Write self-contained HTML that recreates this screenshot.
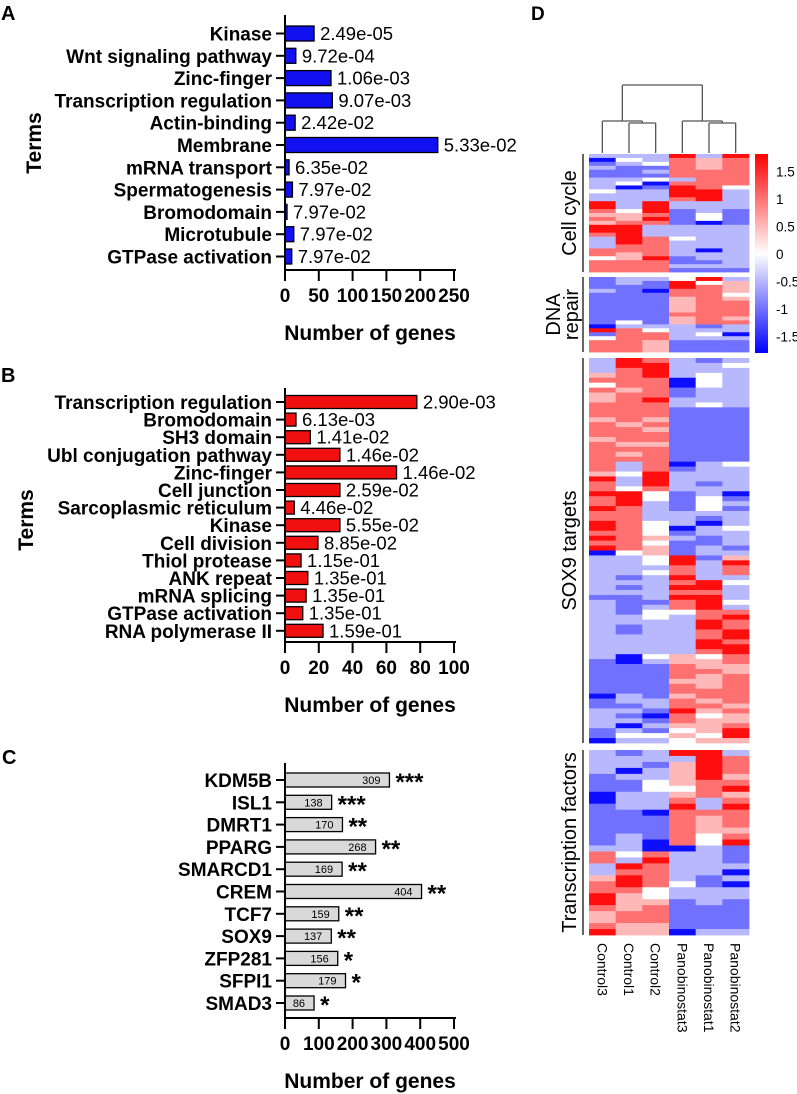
<!DOCTYPE html>
<html><head><meta charset="utf-8"><style>
html,body{margin:0;padding:0;background:#fff}
svg{display:block;font-family:"Liberation Sans",sans-serif}
</style></head><body>
<svg id="fig" width="797" height="1094" viewBox="0 0 797 1094" xmlns="http://www.w3.org/2000/svg">
<g id="gA"></g>
<g id="gB"></g>
<g id="gC"></g>
<g id="gD"></g>
</svg>
<script>
// Panel A data
const catsA = ["Kinase","Wnt signaling pathway","Zinc-finger","Transcription regulation","Actin-binding","Membrane","mRNA transport","Spermatogenesis","Bromodomain","Microtubule","GTPase activation"];
const valsA = [43,16,68,70,15,226,6,11,3,13,10];
const pA = ["2.49e-05","9.72e-04","1.06e-03","9.07e-03","2.42e-02","5.33e-02","6.35e-02","7.97e-02","7.97e-02","7.97e-02","7.97e-02"];
const ticksA = [0,50,100,150,200,250];
// Panel B data
const catsB = ["Transcription regulation","Bromodomain","SH3 domain","Ubl conjugation pathway","Zinc-finger","Cell junction","Sarcoplasmic reticulum","Kinase","Cell division","Thiol protease","ANK repeat","mRNA splicing","GTPase activation","RNA polymerase II"];
const valsB = [78,6.5,15,32.5,66,32.5,5.5,32.5,19.5,9.5,13.5,12.5,10.5,22.5];
const pB = ["2.90e-03","6.13e-03","1.41e-02","1.46e-02","1.46e-02","2.59e-02","4.46e-02","5.55e-02","8.85e-02","1.15e-01","1.35e-01","1.35e-01","1.35e-01","1.59e-01"];
const ticksB = [0,20,40,60,80,100];
// Panel C data
const catsC = ["KDM5B","ISL1","DMRT1","PPARG","SMARCD1","CREM","TCF7","SOX9","ZFP281","SFPI1","SMAD3"];
const valsC = [309,138,170,268,169,404,159,137,156,179,86];
const starsC = ["***","***","**","**","**","**","**","**","*","*","*"];
const ticksC = [0,100,200,300,400,500];
// Panel D data (C3,C1,C2,P3,P1,P2); B=-1.7 b=-1 l=-0.5 w=0 p=0.5 r=1 R=1.7
const samples = ["Control3","Control1","Control2","Panobinostat3","Panobinostat1","Panobinostat2"];
const codeVals = {B:-1.7,b:-1,l:-0.5,w:0,p:0.5,r:1,R:1.7};
const cellCycle = ["lllRlR","Bwlrpr","blwrpr","lbbrpr","bblrrr","bbbrrr","llwlrr","lwBrrr","lBbRrw","wllRRl","lllRRl","lllrRl","RlRlll","RlRlll","rwRblb","pprbwb","rpRbwb","prrbBb","RRllll","RRllll","rRllll","lRrwll","lRrlll","lrrlll","rrrlBl","rprlll","wpRbll","rrrbbl","rrrlll","rrrbbb"];
const dnaRepair = ["bllwRl","blbRwp","bbbRrp","lbBrrp","bbbrrw","bbbprp","bbbprr","bbbprr","bbbprr","bbbrrr","bbbprp","bwbprr","Blllbl","Rrwlll","brrlwB","wrrlll","rrpbbb","rrpbbb","rrpbbb"];
const sox9 = ["lRrlbl","lRRllw","lrRlll","prRlwl","rrrBwl","wrrBwl","rprbll","prrbll","prRlll","rrrlwl","rrrbbb","rrrbbb","prpbbb","rprbbb","rrpbbb","rrrbbb","prrbbb","rppbbb","rrrbbb","rprbbb","rrrbbb","rlrBlw","rlrbll","pwRlll","RlRlll","rlRlbl","rwrlll","RRwblB","rRwbwb","rRlbwl","Rrlbwb","rrllll","rrllbl","RrwlBl","RrwBlw","rrwbll","Rrplbl","rrwbbl","Rrpblb","Bwpbll","llwRbp","llwRlR","lllrlr","llwrlr","lblRll","lllrRw","lblRRl","lllrrl","bblRRl","lbbrRw","lblrRl","lbwwrr","llwlrR","llllRr","lbllRr","lbllrR","llllrR","llllRr","llllRR","llllrR","lBwpwr","bBlppr","bbbrpp","bbbrrp","bbbrpr","bbbppr","bbbrpr","bbbrrr","Blbprr","bllrpr","bblrrp","llbRpr","lbBrwp","llbrpp","lBlppr","blbwpR","bwwpwR","Bllwpp"];
const tfs = ["lblRRl","llllRr","llbpRr","lBlpRr","bllpRp","bbwprr","bbwwrR","Bllprp","Bllrlr","bllRlR","bbBrrr","bbbrpr","bbbrpr","bbbrpp","blbrwr","blBrwR","llBBlb","rwrllb","rlRllb","lRrlll","lrrllB","pRrlbl","rRrwbB","rrwlll","Rpwlll","Rppblb","rprbbb","prrbbb","prrbbb","rppbbb","RppBll"];
const cbTicks = [1.5,1,0.5,0,-0.5,-1,-1.5];

const NS="http://www.w3.org/2000/svg";
function mk(parent,tag,attrs,text){const e=document.createElementNS(NS,tag);for(const k in attrs)e.setAttribute(k,attrs[k]);if(text!==undefined)e.textContent=text;parent.appendChild(e);return e;}

function barChart(g,cfg){
  const x0=285,w=169;
  const xs=v=>x0+v/cfg.max*w;
  const ys=i=>cfg.y0+i*cfg.pitch;
  cfg.cats.forEach((c,i)=>{
    const y=ys(i);
    const t=mk(g,"text",{x:272,y:y+7,"text-anchor":"end","font-size":19,"font-weight":"bold"},c);
    
    
    mk(g,"line",{x1:276,x2:285,y1:y,y2:y,stroke:"#000","stroke-width":2});
    const r=mk(g,"rect",{x:x0,y:y-cfg.bh/2,width:Math.max(1,xs(cfg.vals[i])-x0),height:cfg.bh,fill:cfg.color,stroke:"#000","stroke-width":1.3});
    
    
    if(cfg.inner){
      const it=mk(g,"text",{x:xs(cfg.vals[i])-9,y:y+4,"text-anchor":"end","font-size":11},String(cfg.vals[i]));
      
      
    }
    if(cfg.after){
      const at=mk(g,"text",{x:xs(cfg.vals[i])+6,y:y+(cfg.inner?10:6.5),"font-size":cfg.inner?24:18.5,"font-weight":cfg.inner?"bold":"normal"},cfg.after[i]);
      
      
    }
  });
  mk(g,"line",{x1:285,x2:285,y1:cfg.top,y2:cfg.bot+1,stroke:"#000","stroke-width":2});
  mk(g,"line",{x1:284,x2:456,y1:cfg.bot,y2:cfg.bot,stroke:"#000","stroke-width":2});
  cfg.ticks.forEach(tv=>{
    const x=xs(tv);
    mk(g,"line",{x1:x,x2:x,y1:cfg.bot,y2:cfg.bot+11,stroke:"#000","stroke-width":2});
    const t=mk(g,"text",{x:x,y:cfg.bot+32,"text-anchor":"middle","font-size":19,"font-weight":"bold"},String(tv));
    
    
  });
  const xt=mk(g,"text",{x:370,y:cfg.bot+70,"text-anchor":"middle","font-size":21,"font-weight":"bold"},"Number of genes");
  
  
  if(cfg.termsY){
    const tt=mk(g,"text",{x:0,y:0,transform:`translate(${cfg.termsX},${cfg.termsY}) rotate(-90)`,"text-anchor":"middle","font-size":21,"font-weight":"bold"},"Terms");
    
    
  }
  const pl=mk(g,"text",{x:cfg.lx,y:cfg.ly,"font-size":20,"font-weight":"bold"},cfg.letter);
  
  
}

barChart(document.getElementById("gA"),{cats:catsA,vals:valsA,after:pA,ticks:ticksA,max:250,y0:33.5,pitch:22.3,bh:15,top:15,bot:270,color:"#1010f0",termsX:41,termsY:143,letter:"A",lx:1,ly:20});
barChart(document.getElementById("gB"),{cats:catsB,vals:valsB,after:pB,ticks:ticksB,max:100,y0:402,pitch:17.6,bh:13,top:388,bot:642,color:"#f01010",termsX:33,termsY:520,letter:"B",lx:1,ly:382});
barChart(document.getElementById("gC"),{cats:catsC,vals:valsC,after:starsC,inner:true,ticks:ticksC,max:500,y0:780,pitch:22.3,bh:14,top:763,bot:1018,color:"#d9d9d9",letter:"C",lx:2,ly:764});

// Heatmap
(function(){
  const g=document.getElementById("gD");
  const hx0=589,cw=160/6;
  const col=v=>{const t=Math.min(1,Math.abs(v)/1.8);const c=Math.round(255*(1-t));return v>=0?`rgb(255,${c},${c})`:`rgb(${c},${c},255)`;};
  const sections=[{rows:cellCycle,y0:154,y1:272,name:"Cell cycle"},{rows:dnaRepair,y0:277,y1:352,name:"DNA repair"},{rows:sox9,y0:358,y1:743,name:"SOX9 targets"},{rows:tfs,y0:750,y1:935,name:"Transcription factors"}];
  sections.forEach(s=>{
    const rh=(s.y1-s.y0)/s.rows.length;
    s.rows.forEach((row,ri)=>{
      for(let ci=0;ci<6;ci++){
        const r=mk(g,"rect",{x:hx0+ci*cw,y:s.y0+ri*rh,width:cw+0.4,height:rh+0.4,fill:col(codeVals[row[ci]])});
        
        
      }
    });
    mk(g,"line",{x1:583,x2:583,y1:s.y0,y2:s.y1,stroke:"#000","stroke-width":1.2});
    const cy=(s.y0+s.y1)/2;
    if(s.name==="DNA repair"){
      const a=mk(g,"text",{transform:`translate(560,${cy}) rotate(-90)`,"text-anchor":"middle","font-size":20},"DNA");
      
      
      const b=mk(g,"text",{transform:`translate(578,${cy}) rotate(-90)`,"text-anchor":"middle","font-size":20},"repair");
      
      
    } else {
      const a=mk(g,"text",{transform:`translate(576,${cy}) rotate(-90)`,"text-anchor":"middle","font-size":20},s.name);
      
      
    }
  });
  samples.forEach((n,i)=>{
    const x=hx0+(i+0.5)*cw;
    const t=mk(g,"text",{transform:`translate(${x-5},943) rotate(90)`,"font-size":14},n);
    
    
  });
  const cx=i=>hx0+(i+0.5)*cw;
  const dg=mk(g,"g",{stroke:"#555","stroke-width":1.3,fill:"none"});
  
  
  const seg=(x1,y1,x2,y2)=>mk(dg,"line",{x1,y1,x2,y2});
  const L1=(cx(1)+cx(2))/2, L=(cx(0)+L1)/2, R1=(cx(4)+cx(5))/2, R=(cx(3)+R1)/2;
  seg(cx(1),153,cx(1),123);seg(cx(2),153,cx(2),123);seg(cx(1),123,cx(2),123);
  seg(cx(0),153,cx(0),121);seg(L1,123,L1,121);seg(cx(0),121,L1,121);
  seg(cx(4),153,cx(4),123);seg(cx(5),153,cx(5),123);seg(cx(4),123,cx(5),123);
  seg(cx(3),153,cx(3),121);seg(R1,123,R1,121);seg(cx(3),121,R1,121);
  seg(L,121,L,85);seg(R,121,R,85);seg(L,85,R,85);
  const defs=mk(g,"defs",{});
  const lg=mk(defs,"linearGradient",{id:"cbg",x1:0,y1:0,x2:0,y2:1});
  mk(lg,"stop",{offset:"0",  "stop-color":"#ff0000"});
  mk(lg,"stop",{offset:"0.5","stop-color":"#ffffff"});
  mk(lg,"stop",{offset:"1",  "stop-color":"#0000ff"});
  const cb=mk(g,"rect",{x:755,y:154,width:13,height:199,fill:"url(#cbg)"});
  
  
  cbTicks.forEach(v=>{
    const y=254-v*55;
    const t=mk(g,"text",{x:776,y:y+5,"font-size":13.5},String(v));
    
    
  });
  const pl=mk(g,"text",{x:531,y:20,"font-size":19,"font-weight":"bold"},"D");
  
  
})();
</script>
</body></html>
